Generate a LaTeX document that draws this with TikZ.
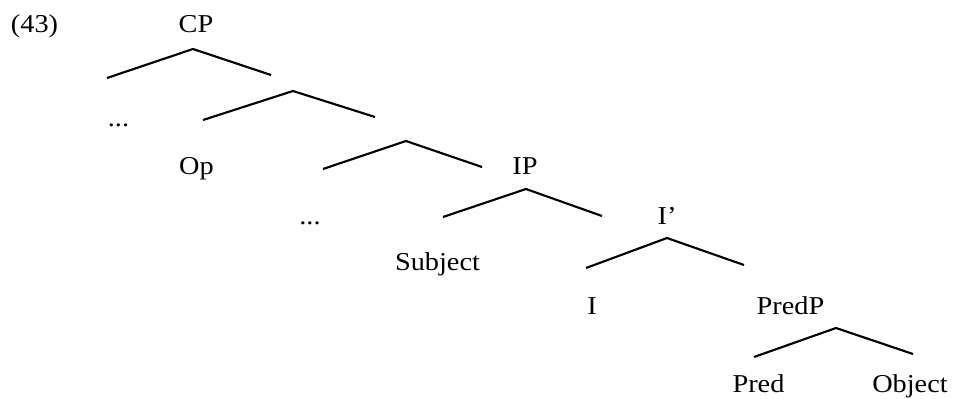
\documentclass[tikz,border=0pt]{standalone}
\usepackage{fontspec}
\setmainfont{Liberation Serif}[FakeStretch=1.1]
\begin{document}
\begin{tikzpicture}[x=0.75pt,y=-0.75pt]

  % Page frame
  \useasboundingbox (0,0) rectangle (956,399);

  \tikzset{
    lbl/.style={anchor=base, inner sep=0pt, font=\fontsize{19.3}{23}\selectfont},
    branch/.style={line width=1.6pt}
  }

  % Labels of the tree
  \node[lbl] (num) at (34.5,33) {(43)};
  \node[lbl] (cp) at (196,33) {CP};
  \node[lbl] (dotsA) at (118.5,127) {...};
  \node[lbl] (op) at (196.5,175) {Op};
  \node[lbl] (ip) at (525,175) {IP};
  \node[lbl] (dotsB) at (310,224) {...};
  \node[lbl] (ibar) at (667,224) {I’};
  \node[lbl] (subj) at (437.5,270) {Subject};
  \node[lbl] (infl) at (592,314) {I};
  \node[lbl] (predp) at (790.5,314) {PredP};
  \node[lbl] (pred) at (758.5,392) {Pred};
  \node[lbl] (obj) at (910,392) {Object};

  % Branching points
  \coordinate (A) at (193,49);
  \coordinate (B) at (293,91);
  \coordinate (C) at (406,141);
  \coordinate (D) at (526,189);
  \coordinate (E) at (667,238);
  \coordinate (F) at (836,328);

  % Ends of the branches
  \coordinate (Al) at (107,78);  \coordinate (Ar) at (271,75);
  \coordinate (Bl) at (203,120); \coordinate (Br) at (375,117);
  \coordinate (Cl) at (323,169); \coordinate (Cr) at (482,167);
  \coordinate (Dl) at (443,217); \coordinate (Dr) at (602,216);
  \coordinate (El) at (586,268); \coordinate (Er) at (744,265);
  \coordinate (Fl) at (754,357); \coordinate (Fr) at (913,354);

  % Draw the branches
  \foreach \n in {A,B,C,D,E,F}
    \draw[branch] (\n l) -- (\n) -- (\n r);

\end{tikzpicture}
\end{document}
